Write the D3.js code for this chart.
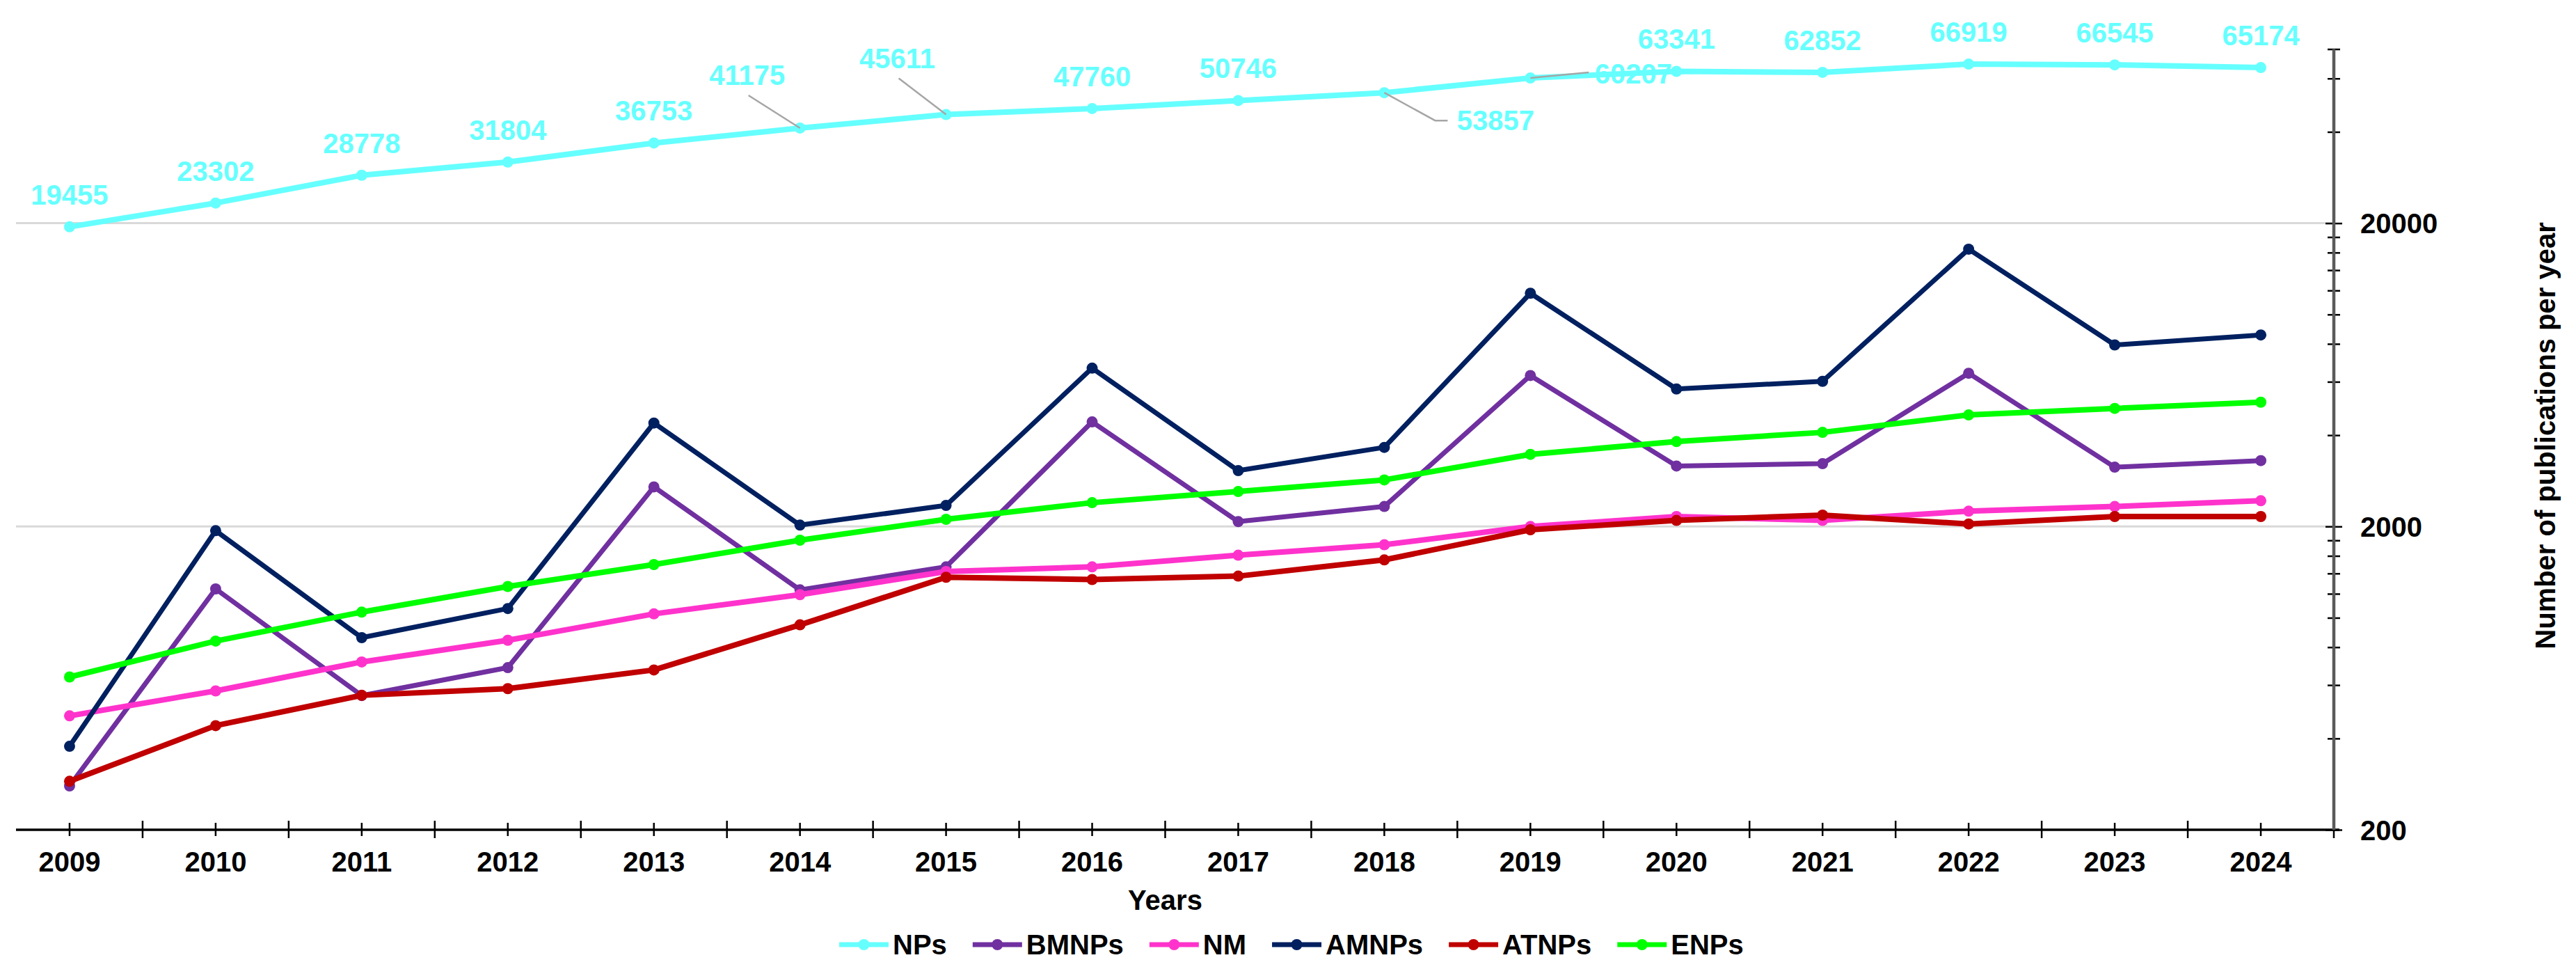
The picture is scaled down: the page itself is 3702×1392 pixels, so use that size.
<!DOCTYPE html>
<html>
<head>
<meta charset="utf-8">
<script src="https://cdn.jsdelivr.net/npm/d3@7"></script>
<style>
  html, body { margin: 0; padding: 0; background: #fff; }
  text { font-family: "Liberation Sans", Arial, sans-serif; font-weight: bold; }
</style>
</head>
<body>
<svg id="chart" width="3702" height="1392"></svg>
<script>
// values
var years = ["2009", "2010", "2011", "2012", "2013", "2014", "2015", "2016",
             "2017", "2018", "2019", "2020", "2021", "2022", "2023", "2024"];
var seriesNames = ["NPs", "BMNPs", "NM", "AMNPs", "ATNPs", "ENPs"];
var nps   = [19455, 23302, 28778, 31804, 36753, 41175, 45611, 47760, 50746, 53857, 60207, 63341, 62852, 66919, 66545, 65174];
var bmnps = [279, 1245, 554, 685, 2702, 1236, 1472, 4424, 2075, 2328, 6291, 3166, 3222, 6402, 3138, 3298];
var nm    = [475, 574, 715, 843, 1030, 1192, 1421, 1472, 1608, 1741, 2000, 2157, 2094, 2246, 2328, 2432];
var amnps = [377, 1937, 860, 1073, 4386, 2021, 2347, 6656, 3056, 3647, 11750, 5681, 6021, 16424, 7936, 8560];
var atnps = [289, 441, 555, 584, 673, 948, 1360, 1337, 1372, 1552, 1951, 2094, 2180, 2039, 2157, 2157];
var enps  = [638, 838, 1044, 1268, 1498, 1802, 2112, 2396, 2608, 2848, 3458, 3810, 4086, 4664, 4902, 5138];
var majorTicks = [200, 2000, 20000];
var minorTicks = [400, 600, 800, 1000, 1200, 1400, 1600, 1800,
                  4000, 6000, 8000, 10000, 12000, 14000, 16000, 18000,
                  40000, 60000, 75000];

var series = [
    { name: "NPs",   values: nps,   color: "#66ffff", width: 8 },
    { name: "BMNPs", values: bmnps, color: "#7030a0", width: 7 },
    { name: "NM",    values: nm,    color: "#ff33cc", width: 8 },
    { name: "AMNPs", values: amnps, color: "#002060", width: 7 },
    { name: "ATNPs", values: atnps, color: "#c00000", width: 8 },
    { name: "ENPs",  values: enps,  color: "#00ff00", width: 8 }
];

/* nudged data labels of the NPs line (offsets from the point) */
var labelNudge = {
    "2014": { dx: -76, dy: -62, leader: [[-74, -47], [0, 0]] },
    "2015": { dx: -70, dy: -67, leader: [[-68, -52], [0, 0]] },
    "2018": { dx: 160, dy: 54, leader: [[0, 0], [73, 40], [91, 40]] },
    "2019": { dx: 148, dy: 8, leader: [[0, 0], [84, -8]] }
};

var svg = d3.select("#chart");
var left = -5, right = 3354, axisStart = 23;
var x = d3.scaleBand().domain(years).range([left, right]).padding(0);
var y = d3.scaleLog().domain([200, 75000]).range([1192, 70.5]);
var cx = function(yr) { return x(yr) + x.bandwidth() / 2; };

/* gridlines */
svg.append("g").selectAll("line")
    .data([2000, 20000])
    .join("line")
    .attr("x1", axisStart).attr("x2", right)
    .attr("y1", function(d) { return y(d); })
    .attr("y2", function(d) { return y(d); })
    .attr("stroke", "#d9d9d9")
    .attr("stroke-width", 3);

/* x axis */
var xAxis = svg.append("g")
    .attr("transform", "translate(0,1192)")
    .call(d3.axisBottom(x).tickSizeOuter(0));
xAxis.select(".domain").remove();
xAxis.selectAll(".tick line")
    .attr("y1", -10).attr("y2", 9)
    .attr("stroke", "#000").attr("stroke-width", 2.5);
xAxis.selectAll(".tick text")
    .attr("y", 60).attr("dy", null)
    .attr("fill", "#000")
    .style("font-size", "40px");
xAxis.append("g").selectAll("line")
    .data(years.slice(1).concat(["end"]))
    .join("line")
    .attr("x1", function(d) { return d == "end" ? right : x(d); })
    .attr("x2", function(d) { return d == "end" ? right : x(d); })
    .attr("y1", -13).attr("y2", 12)
    .attr("stroke", "#000").attr("stroke-width", 2.5);
xAxis.append("line")
    .attr("x1", axisStart).attr("x2", right + 8)
    .attr("stroke", "#000").attr("stroke-width", 3.5);

svg.append("text")
    .attr("x", (left + right) / 2).attr("y", 1307)
    .attr("text-anchor", "middle")
    .style("font-size", "40px")
    .text("Years");

/* y axis on the right */
var yAxis = svg.append("g")
    .attr("transform", "translate(" + right + ",0)")
    .call(d3.axisRight(y)
        .tickValues(majorTicks.concat(minorTicks))
        .tickFormat(function(d) { return majorTicks.indexOf(d) >= 0 ? d : ""; }));
yAxis.select(".domain").remove();
yAxis.append("line")
    .attr("y1", y(75000)).attr("y2", y(200))
    .attr("stroke", "#5a5a5a").attr("stroke-width", 4.5);
yAxis.selectAll(".tick line")
    .attr("x1", function(d) { return majorTicks.indexOf(d) >= 0 ? -12 : -9; })
    .attr("x2", function(d) { return majorTicks.indexOf(d) >= 0 ? 12 : 9; })
    .attr("stroke", "#000").attr("stroke-width", 2.5);
yAxis.selectAll(".tick text")
    .attr("x", 38).attr("dy", "0.35em")
    .attr("fill", "#000")
    .style("font-size", "40px");

svg.append("text")
    .attr("transform", "translate(3672,626) rotate(-90)")
    .attr("text-anchor", "middle")
    .style("font-size", "40px")
    .text("Number of publications per year");

/* lines and markers */
var line = d3.line()
    .x(function(d, i) { return cx(years[i]); })
    .y(function(d) { return y(d); });

series.forEach(function(s) {
    var g = svg.append("g").attr("class", "series");
    g.append("path")
        .attr("d", line(s.values))
        .attr("fill", "none")
        .attr("stroke", s.color)
        .attr("stroke-width", s.width)
        .attr("stroke-linejoin", "round");
    g.selectAll("circle")
        .data(s.values)
        .join("circle")
        .attr("cx", function(d, i) { return cx(years[i]); })
        .attr("cy", function(d) { return y(d); })
        .attr("r", 8)
        .attr("fill", s.color);
});

/* NPs data labels */
var labels = svg.append("g");
nps.forEach(function(v, i) {
    var px = cx(years[i]), py = y(v);
    var n = labelNudge[years[i]] || { dx: 0, dy: -32 };
    if (n.leader) {
        labels.append("path")
            .attr("d", "M" + n.leader.map(function(p) { return (px + p[0]) + "," + (py + p[1]); }).join("L"))
            .attr("fill", "none")
            .attr("stroke", "#a6a6a6")
            .attr("stroke-width", 2.5);
    }
    labels.append("text")
        .attr("x", px + n.dx).attr("y", py + n.dy)
        .attr("text-anchor", "middle")
        .attr("fill", "#66ffff")
        .style("font-size", "40px")
        .text(v);
});

/* legend */
var legend = svg.append("g").attr("transform", "translate(1206,1357)");
var lx = 0;
series.forEach(function(s) {
    var item = legend.append("g").attr("transform", "translate(" + lx + ",0)");
    item.append("line")
        .attr("x1", 0).attr("x2", 71)
        .attr("stroke", s.color).attr("stroke-width", 7);
    item.append("circle")
        .attr("cx", 35.5).attr("r", 8).attr("fill", s.color);
    var t = item.append("text")
        .attr("x", 77).attr("y", 14)
        .style("font-size", "40px")
        .attr("fill", "#000")
        .text(s.name);
    lx += 77 + t.node().getComputedTextLength() + 37;
});
</script>
</body>
</html>
